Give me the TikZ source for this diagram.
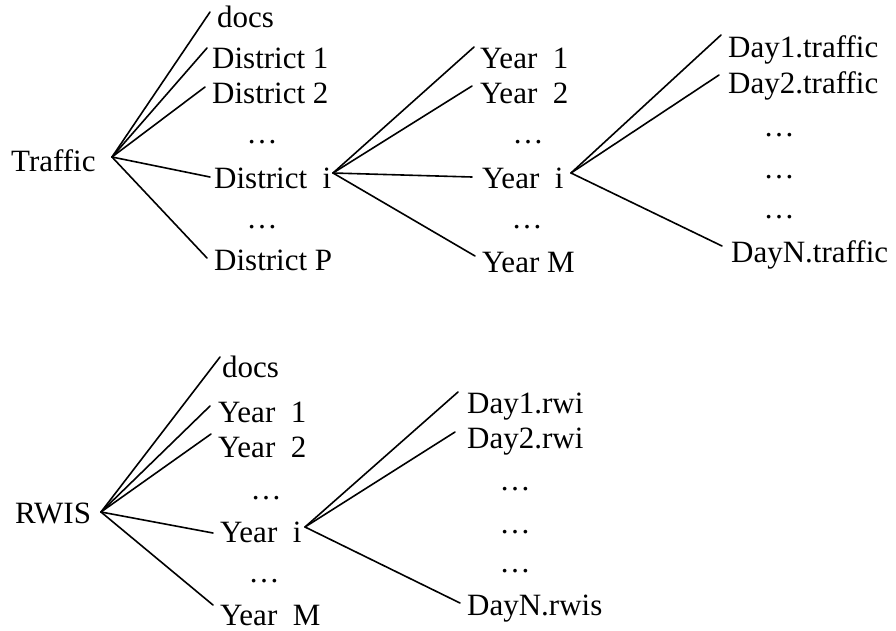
\documentclass[tikz,border=0pt]{standalone}
\usepackage{fontspec}
\setmainfont{Liberation Serif}
\begin{document}
\begin{tikzpicture}[x=1pt,y=-1pt,
  lbl/.style={anchor=base west, inner sep=0pt, font=\fontsize{31}{37}\selectfont},
  ell/.style={anchor=base, inner sep=0pt, font=\fontsize{31}{37}\selectfont},
  edge/.style={line width=1.6pt, line cap=round}]
\useasboundingbox (0,0) rectangle (896,630);
% ---------- top tree: Traffic ----------
\node[lbl] (traffic) at (11,171) {Traffic};
\node[lbl] (tdocs) at (217,27) {docs};
\node[lbl] (td1) at (212,68) {District 1};
\node[lbl] (td2) at (212,103) {District 2};
\node[ell] (tdots1) at (262,143) {…};
\node[lbl] (tdi) at (214,188) {District\ \ i};
\node[ell] (tdots2) at (262,228) {…};
\node[lbl] (tdp) at (214,270) {District P};
\node[lbl] (ty1) at (480,68) {Year\ \ 1};
\node[lbl] (ty2) at (480,103) {Year\ \ 2};
\node[ell] (tdots3) at (528,143) {…};
\node[lbl] (tyi) at (482,188) {Year\ \ i};
\node[ell] (tdots4) at (527,228) {…};
\node[lbl] (tym) at (482,272) {Year M};
\node[lbl] (tday1) at (728,57) {Day1.traffic};
\node[lbl] (tday2) at (728,93) {Day2.traffic};
\node[ell] (tdots5) at (779,136) {…};
\node[ell] (tdots6) at (779,178) {…};
\node[ell] (tdots7) at (779,218) {…};
\node[lbl] (tdayn) at (731,262) {DayN.traffic};
% connection points
\coordinate (th) at (112,157);
\coordinate (tdocs-in) at (210,12);
\coordinate (td1-in) at (207,48);
\coordinate (td2-in) at (205,87);
\coordinate (tdi-in) at (210,177);
\coordinate (tdp-in) at (207,258);
\coordinate (tdi-h) at (333,173);
\coordinate (ty1-in) at (474,47);
\coordinate (ty2-in) at (472,86);
\coordinate (tyi-in) at (472,177);
\coordinate (tym-in) at (475,256);
\coordinate (tyi-h) at (571,173);
\coordinate (tday1-in) at (721,35);
\coordinate (tday2-in) at (719,75);
\coordinate (tdayn-in) at (722,246);
\foreach \t in {tdocs-in,td1-in,td2-in,tdi-in,tdp-in} \draw[edge] (th) -- (\t);
\foreach \t in {ty1-in,ty2-in,tyi-in,tym-in} \draw[edge] (tdi-h) -- (\t);
\foreach \t in {tday1-in,tday2-in,tdayn-in} \draw[edge] (tyi-h) -- (\t);
% ---------- bottom tree: RWIS ----------
\node[lbl] (rwis) at (15,523) {RWIS};
\node[lbl] (rdocs) at (222,377) {docs};
\node[lbl] (ry1) at (218,422) {Year\ \ 1};
\node[lbl] (ry2) at (218,457) {Year\ \ 2};
\node[ell] (rdots1) at (266,499) {…};
\node[lbl] (ryi) at (220,542) {Year\ \ i};
\node[ell] (rdots2) at (264,582) {…};
\node[lbl] (rym) at (220,625) {Year\ \ M};
\node[lbl] (rday1) at (467,413) {Day1.rwi};
\node[lbl] (rday2) at (467,448) {Day2.rwi};
\node[ell] (rdots3) at (515,490) {…};
\node[ell] (rdots4) at (515,533) {…};
\node[ell] (rdots5) at (515,572) {…};
\node[lbl] (rdayn) at (467,615) {DayN.rwis};
\coordinate (rh) at (101,512);
\coordinate (rdocs-in) at (220,357);
\coordinate (ry1-in) at (210,406);
\coordinate (ry2-in) at (211,434);
\coordinate (ryi-in) at (213,533);
\coordinate (rym-in) at (213,605);
\coordinate (ryi-h) at (305,527);
\coordinate (rday1-in) at (458,392);
\coordinate (rday2-in) at (455,432);
\coordinate (rdayn-in) at (460,603);
\foreach \t in {rdocs-in,ry1-in,ry2-in,ryi-in,rym-in} \draw[edge] (rh) -- (\t);
\foreach \t in {rday1-in,rday2-in,rdayn-in} \draw[edge] (ryi-h) -- (\t);
\end{tikzpicture}
\end{document}
